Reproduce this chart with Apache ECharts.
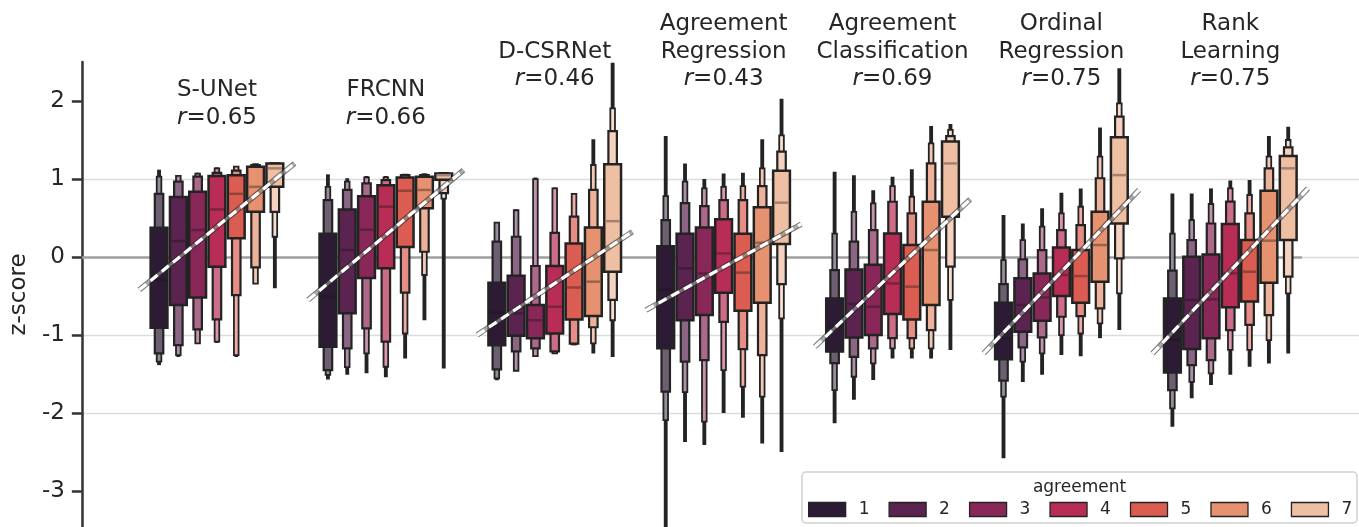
<!DOCTYPE html>
<html><head><meta charset="utf-8">
<script src="https://cdn.jsdelivr.net/npm/echarts@6/dist/echarts.min.js"></script>
<style>html,body{margin:0;padding:0;background:#fff}#c{width:1359px;height:527px}</style>
</head><body><div id="c"></div>
<script>
// ---------------- data ----------------
const models = ['S-UNet', 'FRCNN', 'D-CSRNet', 'Agreement\nRegression', 'Agreement\nClassification', 'Ordinal\nRegression', 'Rank\nLearning'];
const rValues = ['0.65', '0.66', '0.46', '0.43', '0.69', '0.75', '0.75'];
const agreementLevels = ['1', '2', '3', '4', '5', '6', '7'];
const yTicks = [-3, -2, -1, 0, 1, 2];

// letter values per box: [min, lo3, lo2, q1, median, q3, hi2, hi3, max], one row per agreement level
const sunet = [
  [-1.385, -1.34, -1.235, -0.906, -0.295, 0.376, 0.81, 1.03, 1.12],
  [-1.28, -1.256, -1.13, -0.615, 0.205, 0.77, 0.966, 1.04, 1.05],
  [-1.115, -1.107, -0.927, -0.517, 0.346, 0.838, 1.03, 1.07, 1.08],
  [-1.1, -1.085, -0.8, -0.124, 0.61, 1.04, 1.08, 1.137, 1.15],
  [-1.28, -1.256, -0.487, 0.24, 0.81, 1.05, 1.107, 1.158, 1.167],
  [-0.346, -0.34, -0.132, 0.58, 0.9, 1.158, 1.18, 1.19, 1.19],
  [-0.4, 0.26, 0.58, 0.9, 1.137, 1.2, 1.2, 1.2, 1.2]
];
const frcnn = [
  [-1.57, -1.51, -1.45, -1.15, -0.51, 0.30, 0.73, 0.90, 1.06],
  [-1.51, -1.41, -1.17, -0.72, 0.09, 0.61, 0.86, 0.966, 1.01],
  [-1.49, -1.235, -0.915, -0.27, 0.35, 0.78, 0.944, 1.02, 1.04],
  [-1.54, -1.406, -1.085, -0.145, 0.645, 0.92, 0.987, 1.02, 1.04],
  [-1.3, -0.98, -0.457, 0.13, 0.85, 1.02, 1.05, 1.055, 1.06],
  [-0.81, -0.23, 0.068, 0.624, 0.86, 1.03, 1.05, 1.06, 1.07],
  [-1.43, 0.75, 0.82, 0.99, 1.05, 1.07, 1.075, 1.08, 1.08]
];
const dcsrnet = [
  [-1.58, -1.556, -1.44, -1.13, -0.714, -0.33, 0.197, 0.44, 0.45],
  [-1.46, -1.457, -1.21, -1.01, -0.72, -0.24, 0.26, 0.60, 0.61],
  [-1.28, -1.27, -1.17, -1.04, -0.81, -0.615, -0.115, 1.0, 1.02],
  [-1.24, -1.235, -1.21, -0.98, -0.637, -0.115, 0.31, 0.88, 0.89],
  [-1.13, -1.12, -1.11, -0.80, -0.39, 0.175, 0.517, 0.81, 0.816],
  [-1.235, -1.107, -0.9, -0.756, -0.316, 0.38, 0.86, 1.18, 1.51],
  [-1.28, -0.81, -0.55, -0.19, 0.46, 1.19, 1.615, 1.906, 2.49]
];
const agreementRegression = [
  [-3.46, -2.09, -1.726, -1.17, -0.42, 0.14, 0.474, 0.78, 1.55],
  [-2.37, -1.73, -1.34, -0.81, -0.145, 0.30, 0.69, 0.966, 1.2],
  [-2.41, -2.11, -1.32, -0.744, -0.21, 0.38, 0.654, 0.88, 1.0],
  [-2.0, -1.45, -0.83, -0.457, 0.047, 0.483, 0.73, 0.9, 1.07],
  [-2.06, -1.66, -1.18, -0.688, -0.2, 0.30, 0.73, 0.91, 1.08],
  [-2.39, -1.79, -1.256, -0.585, 0.184, 0.637, 0.91, 1.137, 1.51],
  [-2.5, -0.786, -0.346, 0.167, 0.697, 1.107, 1.35, 1.56, 2.03]
];
const agreementClassification = [
  [-2.13, -1.705, -1.36, -1.21, -0.89, -0.53, -0.167, 0.30, 1.094],
  [-1.83, -1.534, -1.28, -1.03, -0.60, -0.158, 0.197, 0.58, 1.05],
  [-1.577, -1.363, -1.17, -1.0, -0.637, -0.10, 0.346, 0.688, 0.857],
  [-1.3, -1.17, -1.04, -0.73, -0.338, 0.303, 0.709, 0.91, 1.03],
  [-1.3, -1.17, -1.04, -0.80, -0.38, 0.154, 0.56, 0.773, 1.124],
  [-1.3, -1.17, -0.936, -0.615, 0.09, 0.709, 1.2, 1.457, 1.68],
  [-1.19, -0.55, -0.124, 0.517, 1.2, 1.48, 1.55, 1.63, 1.705]
];
const ordinalRegression = [
  [-2.58, -1.79, -1.585, -1.31, -1.04, -0.585, -0.346, -0.04, 0.54],
  [-1.6, -1.34, -1.158, -0.957, -0.615, -0.273, -0.03, 0.218, 0.43],
  [-1.51, -1.235, -1.03, -0.816, -0.517, -0.21, 0.09, 0.39, 0.624],
  [-1.256, -1.0, -0.765, -0.5, -0.23, 0.124, 0.346, 0.56, 0.825],
  [-1.27, -0.98, -0.756, -0.585, -0.244, 0.09, 0.41, 0.645, 0.88],
  [-1.04, -0.85, -0.658, -0.316, 0.154, 0.58, 1.01, 1.286, 1.66],
  [-0.936, -0.466, -0.017, 0.43, 1.05, 1.534, 1.8, 1.97, 2.42]
];
const rankLearning = [
  [-2.175, -1.94, -1.705, -1.48, -1.06, -0.53, -0.175, 0.30, 0.816],
  [-1.81, -1.6, -1.385, -1.18, -0.55, 0.004, 0.218, 0.474, 0.816],
  [-1.64, -1.49, -1.32, -1.04, -0.543, 0.034, 0.43, 0.68, 0.88],
  [-1.51, -1.19, -0.936, -0.645, -0.21, 0.423, 0.71, 0.88, 0.98],
  [-1.406, -1.19, -0.87, -0.57, -0.188, 0.218, 0.56, 0.795, 0.987],
  [-1.363, -1.064, -0.744, -0.33, 0.21, 0.85, 1.137, 1.286, 1.55],
  [-1.235, -0.466, -0.25, 0.218, 1.137, 1.295, 1.406, 1.5, 1.67]
];
// fitted regression line values at the left and right end of each group
const regStart = [-0.42, -0.55, -1.0, -0.68, -1.15, -1.235, -1.235];
const regEnd = [1.20, 1.115, 0.325, 0.423, 0.74, 0.86, 0.88];

// ---------------- layout / style ----------------
const groups = [sunet, frcnn, dcsrnet, agreementRegression, agreementClassification, ordinalRegression, rankLearning];
const titleY = [1.61, 1.61, 2.10, 2.10, 2.10, 2.10, 2.10];
const palette = ['#2d1b35', '#5a2350', '#892858', '#b72d55', '#db5c50', '#e6916f', '#efbfa3'];
const EDGE = '#232323';
const TEXT = '#262626';
const FONT = 'DejaVu Sans';
const SLOT = 0.8 / 7;

function mix(hex, target, t) {
  const a = parseInt(hex.slice(1), 16), b = parseInt(target.slice(1), 16);
  const ch = (v, s) => (v >> s) & 255;
  const r = Math.round(ch(a,16) * (1 - t) + ch(b,16) * t);
  const g = Math.round(ch(a,8) * (1 - t) + ch(b,8) * t);
  const bl = Math.round(ch(a,0) * (1 - t) + ch(b,0) * t);
  return 'rgb(' + r + ',' + g + ',' + bl + ')';
}

function boxRender(k) {
  const base = palette[k];
  const c2 = mix(base, '#ffffff', 0.3);
  const c3 = mix(base, '#ffffff', 0.5);
  const med = mix(base, '#111111', 0.35);
  return function (params, api) {
    const g = api.value(0);
    const x = g + (k - 3) * SLOT;
    const cx = api.coord([x, 0])[0];
    const slotPx = api.size([SLOT, 0])[0];
    const Y = i => api.coord([x, api.value(i)])[1];
    const rect = (lo, hi, w, fill, lw) => ({
      type: 'rect',
      shape: { x: cx - w / 2, y: Y(hi), width: w, height: Math.max(Y(lo) - Y(hi), 0.5) },
      style: { fill: fill, stroke: lw ? EDGE : null, lineWidth: lw || 0 }
    });
    const wMain = slotPx * 0.87;
    const children = [
      rect(1, 9, slotPx * 0.2, EDGE, 0),
      rect(2, 8, slotPx * 0.24, c3, 1.8),
      rect(3, 7, slotPx * 0.44, c2, 2.2),
      rect(4, 6, wMain, base, 2.5),
      {
        type: 'line',
        shape: { x1: cx - wMain / 2 + 1.3, y1: Y(5), x2: cx + wMain / 2 - 1.3, y2: Y(5) },
        style: { stroke: med, lineWidth: 2.5 }
      }
    ];
    return { type: 'group', children: children };
  };
}

const series = agreementLevels.map((lv, k) => ({
  name: lv,
  type: 'custom',
  z: 2,
  clip: true,
  itemStyle: { color: palette[k] },
  renderItem: boxRender(k),
  data: groups.map((grp, g) => [g].concat(grp[k]))
}));

// zero reference line
series.push({
  type: 'line', data: [], z: 1, silent: true,
  markLine: {
    silent: true, symbol: 'none', z: 1, label: { show: false },
    lineStyle: { color: '#a0a0a0', width: 2.5, type: 'solid' },
    data: [[{ coord: [-0.8, 0] }, { coord: [6.425, 0] }]]
  }
});

// regression lines
series.push({
  type: 'custom', z: 5, silent: true,
  renderItem: function (params, api) {
    const g = api.value(0);
    const p1 = api.coord([g - 0.46, api.value(1)]);
    const p2 = api.coord([g + 0.46, api.value(2)]);
    const shape = { x1: p1[0], y1: p1[1], x2: p2[0], y2: p2[1] };
    return {
      type: 'group', children: [
        { type: 'line', shape: shape, style: { stroke: 'rgba(40,40,40,0.6)', lineWidth: 5.5 } },
        { type: 'line', shape: shape, style: { stroke: 'rgba(255,255,255,0.35)', lineWidth: 3 } },
        { type: 'line', shape: shape, style: { stroke: '#ffffff', lineWidth: 3.2, lineDash: [9, 5.5] } }
      ]
    };
  },
  data: models.map((m, g) => [g, regStart[g], regEnd[g]])
});

// titles
series.push({
  type: 'scatter', z: 10, silent: true, symbolSize: 0,
  itemStyle: { color: TEXT, opacity: 1 },
  data: models.map((m, g) => [g, titleY[g]]),
  label: {
    show: true, position: 'top', distance: 0, color: TEXT, opacity: 1,
    formatter: function (p) {
      const lines = models[p.dataIndex].split('\n').map(s => '{n|' + s + '}');
      lines.push('{i|r}{n|=' + rValues[p.dataIndex] + '}');
      return lines.join('\n');
    },
    rich: {
      n: { fontSize: 23, fontFamily: FONT, color: TEXT, lineHeight: 27.5 },
      i: { fontSize: 23, fontFamily: FONT, color: TEXT, lineHeight: 27.5, fontStyle: 'italic' }
    }
  }
});

const chart = echarts.init(document.getElementById('c'), null, { renderer: 'canvas' });
chart.setOption({
  backgroundColor: '#ffffff',
  animation: false,
  grid: { left: 80, right: 0, top: 62, bottom: 0, containLabel: false },
  xAxis: {
    type: 'value', min: -0.8, max: 6.762,
    axisLine: { show: false }, axisTick: { show: false }, axisLabel: { show: false }, splitLine: { show: false }
  },
  yAxis: {
    type: 'value', min: -3.46, max: 2.5,
    name: 'z-score', nameLocation: 'middle', nameGap: 48, nameRotate: 90,
    nameTextStyle: { fontSize: 23, fontFamily: FONT, color: TEXT },
    axisLine: { show: true, onZero: false, lineStyle: { color: '#333333', width: 2.5 } },
    axisTick: { show: true, length: 10, lineStyle: { color: '#333333', width: 2.5 }, customValues: yTicks },
    axisLabel: { fontSize: 23, fontFamily: FONT, color: TEXT, margin: 17, customValues: yTicks },
    splitLine: { show: true, showMinLine: false, showMaxLine: false, lineStyle: { color: '#dcdcdc', width: 1.3 } }
  },
  legend: {
    data: agreementLevels, left: 808, top: 501, icon: 'rect', itemWidth: 37, itemHeight: 14, itemGap: 19,
    padding: 0, width: 551,
    textStyle: { fontSize: 17, fontFamily: FONT, color: TEXT, padding: [0, 0, 0, 8] },
    itemStyle: { borderColor: EDGE, borderWidth: 1.3 },
    selectedMode: false, z: 20
  },
  graphic: [
    { type: 'rect', z: 15, shape: { x: 802, y: 472, width: 555, height: 51, r: 4 },
      style: { fill: 'rgba(255,255,255,0.85)', stroke: '#d0d0d0', lineWidth: 1.5 } },
    { type: 'text', z: 16, x: 1079.5, y: 488,
      style: { text: 'agreement', fontSize: 17, fontFamily: FONT, fill: TEXT, align: 'center', verticalAlign: 'middle' } }
  ],
  series: series
});
</script>
</body></html>
